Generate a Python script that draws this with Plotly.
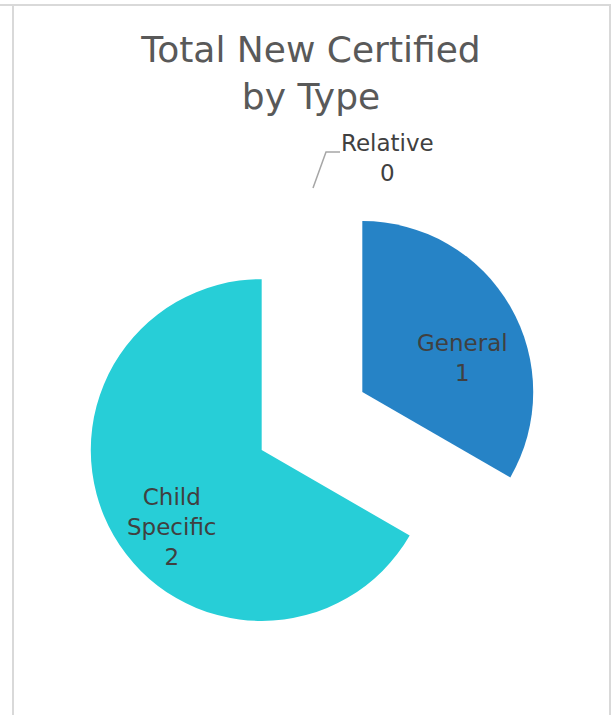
import plotly.graph_objects as go

W, H = 614, 715

# data
categories = ["General", "Child Specific", "Relative"]
values = [1, 2, 0]
colors = ["#2683C6", "#27CED7", "#1CADE4"]
title_text = "Total New Certified<br>by Type"

FONT = "Century Gothic, DejaVu Sans, sans-serif"


def px(x):
    return x / W


def py(y):
    return 1 - y / H


fig = go.Figure(go.Pie(
    labels=categories, values=values, textinfo="none",
    sort=False, direction="clockwise", rotation=0,
    pull=[0.34, 0.34, 0.34],
    marker=dict(colors=colors, line=dict(width=0)),
    domain=dict(x=[px(83), px(541)], y=[py(650), py(192)]),
    showlegend=False, hoverinfo="label+value",
))

# data labels, wrapped and placed like the original
label_pos = {"General": (462, 358), "Child Specific": (172, 527), "Relative": (388, 158)}
for c, v in zip(categories, values):
    lx, ly = label_pos[c]
    txt = c.replace(" ", "<br>") + "<br>" + str(v)
    fig.add_annotation(x=px(lx), y=py(ly), xref="paper", yref="paper", text=txt,
                       showarrow=False, xanchor="center", yanchor="middle",
                       font=dict(family=FONT, size=23, color="#404040"))

# leader line for the zero slice
fig.add_shape(type="path", xref="paper", yref="paper",
              path=f"M {px(313)} {py(188)} L {px(326)} {py(152)} L {px(340)} {py(152)}",
              line=dict(color="#A6A6A6", width=1.5))

# chart frame
frame = dict(color="#D9D9D9", width=2)
fig.add_shape(type="line", xref="paper", yref="paper", x0=0, x1=px(611), y0=py(5), y1=py(5), line=frame)
fig.add_shape(type="line", xref="paper", yref="paper", x0=px(13), x1=px(13), y0=py(5), y1=0, line=frame)
fig.add_shape(type="line", xref="paper", yref="paper", x0=px(610), x1=px(610), y0=py(5), y1=0, line=frame)

fig.update_layout(
    width=W, height=H,
    margin=dict(l=0, r=0, t=0, b=0),
    paper_bgcolor="white", plot_bgcolor="white",
    title=dict(text=title_text, x=px(311), xanchor="center", y=py(62), yanchor="middle",
               font=dict(family=FONT, size=36, color="#595959")),
)

fig.write_html("out.html", config={"displayModeBar": False},
               post_script="document.body.style.margin='0';")
